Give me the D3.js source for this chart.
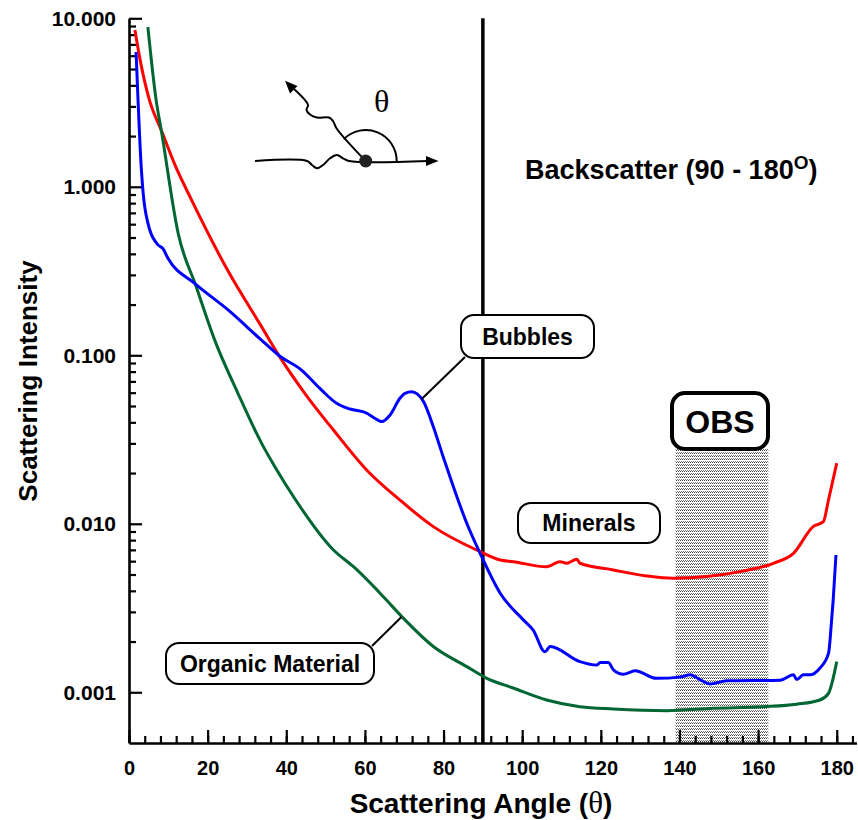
<!DOCTYPE html>
<html>
<head>
<meta charset="utf-8">
<script src="https://cdn.jsdelivr.net/npm/d3@7"></script>
<style>
  html, body { margin: 0; padding: 0; background: #fff; }
  svg { display: block; }
  text { font-family: "Liberation Sans", Arial, sans-serif; font-weight: bold; fill: #000; }
</style>
</head>
<body>
<svg id="chart" width="858" height="820"></svg>
<script>
// ---------------- DATA ----------------
const xTickValues = [0, 20, 40, 60, 80, 100, 120, 140, 160, 180];
const yTickValues = [0.001, 0.01, 0.1, 1, 10];

const mineralsAngle = [1.5, 3.0, 5.2, 8.2, 11.8, 15.9, 25.2, 33.7, 38.3, 44.7, 52.0, 60.5, 68.9, 77.4, 88.4, 94.4, 97.7, 106.2, 109.6, 111.3, 113.9, 114.7, 123.2, 131.7, 138.4, 146.9, 155.4, 163.9, 169.0, 174.0, 176.6, 177.9, 180];
const mineralsValue = [8.53, 5.4, 3.27, 2.17, 1.33, 0.836, 0.316, 0.148, 0.0982, 0.0595, 0.0360, 0.0208, 0.01383, 0.00962, 0.00699, 0.00610, 0.00596, 0.00556, 0.00596, 0.00583, 0.00616, 0.00583, 0.00532, 0.00490, 0.00475, 0.00486, 0.00520, 0.00583, 0.00668, 0.00962, 0.01029, 0.01384, 0.0229];

const bubblesAngle = [1.8, 2.3, 3.1, 3.6, 4.8, 7.4, 8.6, 9.9, 16.7, 25.2, 33.7, 38.3, 43.8, 48.1, 49.4, 52.8, 56.2, 60.5, 62.1, 64.3, 66.4, 68.9, 70.2, 71.9, 73.3, 74.9, 77.4, 79.9, 82.5, 85.9, 89.3, 94.4, 100.3, 102.8, 105.8, 107.1, 114.7, 119.0, 119.8, 121.9, 123.2, 125.7, 128.7, 134.2, 140.1, 142.7, 145.2, 147.8, 152.0, 165.6, 169.0, 169.8, 171.5, 173.2, 175.7, 177.9, 178.7, 179.1, 179.8];
const bubblesValue = [6.31, 3.27, 1.316, 0.918, 0.61, 0.452, 0.431, 0.377, 0.267, 0.186, 0.123, 0.0991, 0.0819, 0.0651, 0.0608, 0.0519, 0.0480, 0.0453, 0.0429, 0.0404, 0.0442, 0.0556, 0.0595, 0.0608, 0.0590, 0.0531, 0.0377, 0.0250, 0.0166, 0.01007, 0.00668, 0.00387, 0.00269, 0.00234, 0.00174, 0.00187, 0.00152, 0.00145, 0.00150, 0.00150, 0.00136, 0.00128, 0.00134, 0.00121, 0.00123, 0.00127, 0.00119, 0.00112, 0.00117, 0.00118, 0.00127, 0.00119, 0.00127, 0.00127, 0.00139, 0.00170, 0.00269, 0.00353, 0.00653];

const organicAngle = [4.8, 6.9, 8.2, 12.5, 17.1, 21.8, 27.7, 33.7, 37.1, 42.1, 52.0, 57.1, 64.7, 69.4, 77.4, 85.9, 91.0, 97.7, 106.2, 114.7, 123.2, 136.8, 148.6, 161.3, 169.8, 175.7, 177.9, 180];
const organicValue = [8.88, 3.27, 2.17, 0.530, 0.255, 0.123, 0.0595, 0.0301, 0.0218, 0.01417, 0.00699, 0.00556, 0.00369, 0.00281, 0.00187, 0.00142, 0.00121, 0.00106, 0.000900, 0.000821, 0.000796, 0.000778, 0.000804, 0.000821, 0.000849, 0.000900, 0.000986, 0.00152];

const backscatterStart = 90;
const obsRange = [139, 162.6];

// ---------------- SETUP ----------------
const svg = d3.select("#chart");
const x = d3.scaleLinear().domain([0, 185]).range([129, 856.4]);
const y = d3.scaleLog().domain([0.0005, 10]).range([743, 18.3]);

// stipple pattern
const defs = svg.append("defs");
const pat = defs.append("pattern").attr("id", "stipple").attr("patternUnits", "userSpaceOnUse")
  .attr("width", 2).attr("height", 3);
pat.append("rect").attr("x", 0).attr("y", 0).attr("width", 1).attr("height", 1).attr("fill", "#444");
pat.append("rect").attr("x", 1).attr("y", 2).attr("width", 1).attr("height", 1).attr("fill", "#777");

// OBS shaded region
svg.append("rect")
  .attr("x", x(obsRange[0])).attr("y", 449)
  .attr("width", x(obsRange[1]) - x(obsRange[0]))
  .attr("height", y(0.0005) - 449)
  .attr("fill", "url(#stipple)");

// vertical line at 90
svg.append("line")
  .attr("x1", x(backscatterStart)).attr("x2", x(backscatterStart))
  .attr("y1", y(10)).attr("y2", y(0.0005))
  .attr("stroke", "#000").attr("stroke-width", 3.5);

// ---------------- AXES ----------------
const minorY = [];
yTickValues.slice(0, -1).forEach(d => { for (let k = 2; k <= 9; k++) minorY.push(d * k); });

const yAxis = d3.axisLeft(y).tickValues(yTickValues).tickFormat(d3.format(".3f"))
  .tickSizeInner(-13).tickSizeOuter(0).tickPadding(13);
const gy = svg.append("g").attr("transform", `translate(${x(0)},0)`).call(yAxis);
gy.selectAll("text").style("font-size", "21px");
const gyMinor = svg.append("g").attr("transform", `translate(${x(0)},0)`)
  .call(d3.axisLeft(y).tickValues(minorY).tickFormat("").tickSizeInner(-7).tickSizeOuter(0));
gyMinor.select(".domain").remove();

const minorX = d3.range(0, 185, 4);
const xAxis = d3.axisBottom(x).tickValues(xTickValues).tickFormat(d3.format("d"))
  .tickSizeInner(-13).tickSizeOuter(0).tickPadding(18);
const gx = svg.append("g").attr("transform", `translate(0,${y(0.0005)})`).call(xAxis);
gx.selectAll("text").style("font-size", "20px");
const gxMinor = svg.append("g").attr("transform", `translate(0,${y(0.0005)})`)
  .call(d3.axisBottom(x).tickValues(minorX).tickFormat("").tickSizeInner(-7).tickSizeOuter(0));
gxMinor.select(".domain").remove();

svg.selectAll(".domain").attr("stroke-width", 2.6).attr("stroke", "#000");
svg.selectAll(".tick line").attr("stroke-width", 2.2).attr("stroke", "#000");

// axis titles
const xt = svg.append("text").attr("x", 481).attr("y", 813).attr("text-anchor", "middle")
  .style("font-size", "28px");
xt.append("tspan").text("Scattering Angle (");
xt.append("tspan").text("θ").style("font-family", "'Liberation Serif', 'Times New Roman', serif").style("font-weight", "normal").style("font-size", "31px");
xt.append("tspan").text(")");

svg.append("text").attr("transform", "translate(37,381) rotate(-90)").attr("text-anchor", "middle")
  .style("font-size", "26px").text("Scattering Intensity");

// ---------------- CURVES ----------------
const line = d3.line().x(d => x(d[0])).y(d => y(d[1])).curve(d3.curveMonotoneX);
const series = [
  { a: mineralsAngle, v: mineralsValue, c: "#ff0000" },
  { a: organicAngle, v: organicValue, c: "#006633" },
  { a: bubblesAngle, v: bubblesValue, c: "#0000ff" }
];
series.forEach(s => {
  svg.append("path").datum(d3.zip(s.a, s.v)).attr("d", line)
    .attr("fill", "none").attr("stroke", s.c).attr("stroke-width", 3).attr("stroke-linejoin", "round");
});

// ---------------- ANNOTATIONS ----------------
function box(x0, y0, w, h, label, fs, sw) {
  svg.append("rect").attr("x", x0).attr("y", y0).attr("width", w).attr("height", h)
    .attr("rx", 13).attr("ry", 13).attr("fill", "#fff").attr("stroke", "#000").attr("stroke-width", sw);
  svg.append("text").attr("x", x0 + w / 2).attr("y", y0 + h / 2).attr("dy", "0.36em")
    .attr("text-anchor", "middle").style("font-size", fs + "px").text(label);
}
// leader lines
svg.append("line").attr("x1", 465).attr("y1", 357).attr("x2", 421.7).attr("y2", 399).attr("stroke", "#000").attr("stroke-width", 2);
svg.append("line").attr("x1", 372).attr("y1", 646).attr("x2", 401.7).attr("y2", 616.7).attr("stroke", "#000").attr("stroke-width", 2);

box(461, 315, 133, 43, "Bubbles", 23, 2);
box(518, 503, 142, 40, "Minerals", 23, 2);
box(166, 643, 208, 41, "Organic Material", 23, 2);
box(672, 393, 96, 56, "OBS", 32, 4);

const bt = svg.append("text").attr("x", 525).attr("y", 179).style("font-size", "27px");
bt.append("tspan").text("Backscatter (90 - 180");
bt.append("tspan").text("O").attr("dy", -10).style("font-size", "19px");
bt.append("tspan").text(")").attr("dy", 10);

// scattering diagram
const dg = svg.append("g").attr("fill", "none").attr("stroke", "#000").attr("stroke-width", 2);
const smooth = d3.line().curve(d3.curveCatmullRom);
dg.append("path").attr("d", smooth([[255,161],[307,161],[312,165],[317,168.3],[323,165],[330,158.3],[337,155],[343,158.3],[349,161],[428,161]]));
dg.append("path").attr("d", smooth([[365.7,161],[337,129],[333,121],[329,117.5],[317,117.5],[310,114.5],[306.5,110],[308,105],[294,89]]));
dg.append("path").attr("d", "M396.7,161 A31,31 0 0 0 343.8,139.1");
svg.append("polygon").attr("points", "438.5,161 426,156 426,166").attr("fill", "#000");
svg.append("polygon").attr("points", "285,80.7 297.5,86 290,93.5").attr("fill", "#000");
svg.append("circle").attr("cx", 365.7).attr("cy", 161).attr("r", 6.5).attr("fill", "#222");
svg.append("text").attr("x", 381.7).attr("y", 112).attr("text-anchor", "middle")
  .style("font-family", "'Liberation Serif', 'Times New Roman', serif").style("font-weight", "normal")
  .style("font-size", "32px").text("θ");
</script>
</body>
</html>
